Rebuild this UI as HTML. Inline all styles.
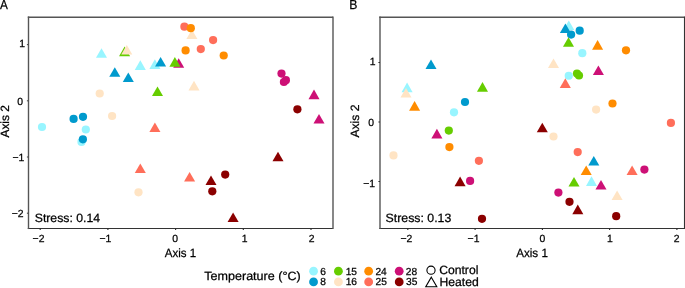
<!DOCTYPE html>
<html><head><meta charset="utf-8"><title>NMDS plots</title><style>
html,body{margin:0;padding:0;background:#fff;}
body{width:685px;height:288px;overflow:hidden;}
.wrap{will-change:transform;width:685px;height:288px;}
svg{display:block;font-family:"Liberation Sans",sans-serif;text-rendering:geometricPrecision;}
</style></head><body><div class="wrap">
<svg width="685" height="288" viewBox="0 0 685 288">
<rect width="685" height="288" fill="#fff"/>
<polygon points="101.50,48.22 107.02,57.79 95.98,57.79" fill="#98F5FF"/>
<polygon points="124.60,46.62 130.12,56.19 119.08,56.19" fill="#66CD00"/>
<polygon points="126.80,45.02 132.32,54.59 121.28,54.59" fill="#FFE4C4"/>
<polygon points="140.30,60.32 145.82,69.89 134.78,69.89" fill="#98F5FF"/>
<polygon points="154.90,59.32 160.42,68.89 149.38,68.89" fill="#98F5FF"/>
<polygon points="160.60,57.02 166.12,66.59 155.08,66.59" fill="#009ACD"/>
<polygon points="178.70,58.22 184.22,67.79 173.18,67.79" fill="#CD1076"/>
<polygon points="174.90,57.12 180.42,66.69 169.38,66.69" fill="#66CD00"/>
<polygon points="114.80,67.22 120.32,76.79 109.28,76.79" fill="#009ACD"/>
<polygon points="128.30,72.42 133.82,81.99 122.78,81.99" fill="#009ACD"/>
<circle cx="184.40" cy="26.70" r="4.10" fill="#FF6E5A"/>
<polygon points="191.90,29.42 197.42,38.99 186.38,38.99" fill="#FFE4C4"/>
<circle cx="190.80" cy="28.20" r="4.10" fill="#FF8C00"/>
<circle cx="213.10" cy="40.10" r="4.10" fill="#FF6E5A"/>
<circle cx="185.60" cy="50.40" r="4.10" fill="#FF8C00"/>
<circle cx="200.80" cy="49.10" r="4.10" fill="#FF6E5A"/>
<circle cx="223.70" cy="55.50" r="4.10" fill="#FF8C00"/>
<circle cx="281.50" cy="73.60" r="4.10" fill="#CD1076"/>
<circle cx="283.90" cy="82.00" r="4.10" fill="#CD1076"/>
<circle cx="285.90" cy="80.20" r="4.10" fill="#CD1076"/>
<polygon points="314.00,89.62 319.52,99.19 308.48,99.19" fill="#CD1076"/>
<circle cx="297.40" cy="109.30" r="4.10" fill="#8B0000"/>
<polygon points="319.00,114.02 324.52,123.59 313.48,123.59" fill="#CD1076"/>
<polygon points="194.00,80.82 199.52,90.39 188.48,90.39" fill="#FFE4C4"/>
<polygon points="157.50,86.42 163.02,95.99 151.98,95.99" fill="#66CD00"/>
<circle cx="99.70" cy="93.50" r="4.10" fill="#FFE4C4"/>
<circle cx="112.10" cy="116.00" r="4.10" fill="#FFE4C4"/>
<circle cx="73.60" cy="118.90" r="4.10" fill="#009ACD"/>
<circle cx="83.00" cy="116.80" r="4.10" fill="#009ACD"/>
<circle cx="42.00" cy="127.00" r="4.10" fill="#98F5FF"/>
<circle cx="85.80" cy="129.50" r="4.10" fill="#98F5FF"/>
<circle cx="81.50" cy="141.90" r="4.10" fill="#98F5FF"/>
<circle cx="82.90" cy="139.30" r="4.10" fill="#009ACD"/>
<polygon points="154.90,122.52 160.42,132.09 149.38,132.09" fill="#FF6E5A"/>
<polygon points="140.30,163.52 145.82,173.09 134.78,173.09" fill="#FF6E5A"/>
<polygon points="189.60,172.02 195.12,181.59 184.08,181.59" fill="#FF6E5A"/>
<circle cx="138.50" cy="192.30" r="4.10" fill="#FFE4C4"/>
<circle cx="225.20" cy="174.60" r="4.10" fill="#8B0000"/>
<polygon points="211.00,175.42 216.52,184.99 205.48,184.99" fill="#8B0000"/>
<circle cx="212.30" cy="191.30" r="4.10" fill="#8B0000"/>
<polygon points="233.10,212.52 238.62,222.09 227.58,222.09" fill="#8B0000"/>
<polygon points="278.00,151.72 283.52,161.29 272.48,161.29" fill="#8B0000"/>
<polygon points="407.10,82.62 412.62,92.19 401.58,92.19" fill="#98F5FF"/>
<polygon points="406.00,87.92 411.52,97.49 400.48,97.49" fill="#FFE4C4"/>
<polygon points="414.60,101.12 420.12,110.69 409.08,110.69" fill="#FF8C00"/>
<polygon points="431.00,59.52 436.52,69.09 425.48,69.09" fill="#009ACD"/>
<circle cx="465.00" cy="102.00" r="4.10" fill="#009ACD"/>
<circle cx="454.00" cy="112.30" r="4.10" fill="#98F5FF"/>
<polygon points="482.50,82.12 488.02,91.69 476.98,91.69" fill="#66CD00"/>
<polygon points="553.50,58.42 559.02,67.99 547.98,67.99" fill="#FFE4C4"/>
<polygon points="568.80,20.42 574.32,29.99 563.28,29.99" fill="#98F5FF"/>
<polygon points="565.40,23.42 570.92,32.99 559.88,32.99" fill="#009ACD"/>
<circle cx="571.10" cy="34.60" r="4.10" fill="#009ACD"/>
<circle cx="579.70" cy="30.70" r="4.10" fill="#009ACD"/>
<polygon points="568.50,37.22 574.02,46.79 562.98,46.79" fill="#66CD00"/>
<polygon points="597.60,40.12 603.12,49.69 592.08,49.69" fill="#FF8C00"/>
<circle cx="626.00" cy="50.30" r="4.10" fill="#FF8C00"/>
<circle cx="582.30" cy="53.20" r="4.10" fill="#98F5FF"/>
<circle cx="568.75" cy="75.75" r="4.10" fill="#98F5FF"/>
<circle cx="577.00" cy="73.60" r="4.10" fill="#66CD00"/>
<circle cx="579.00" cy="75.50" r="4.10" fill="#66CD00"/>
<polygon points="565.30,78.32 570.82,87.89 559.78,87.89" fill="#FF6E5A"/>
<polygon points="598.40,65.52 603.92,75.09 592.88,75.09" fill="#CD1076"/>
<circle cx="612.50" cy="103.50" r="4.10" fill="#FF8C00"/>
<circle cx="596.10" cy="109.60" r="4.10" fill="#FFE4C4"/>
<circle cx="670.90" cy="122.90" r="4.10" fill="#FF6E5A"/>
<polygon points="436.90,128.82 442.42,138.39 431.38,138.39" fill="#CD1076"/>
<circle cx="448.80" cy="130.60" r="4.10" fill="#66CD00"/>
<circle cx="449.40" cy="147.10" r="4.10" fill="#FF8C00"/>
<circle cx="393.50" cy="155.40" r="4.10" fill="#FFE4C4"/>
<polygon points="542.30,122.72 547.82,132.29 536.78,132.29" fill="#8B0000"/>
<circle cx="553.50" cy="136.50" r="4.10" fill="#FFE4C4"/>
<circle cx="478.90" cy="160.80" r="4.10" fill="#FF6E5A"/>
<polygon points="460.10,176.62 465.62,186.19 454.58,186.19" fill="#8B0000"/>
<circle cx="470.10" cy="180.90" r="4.10" fill="#CD1076"/>
<circle cx="482.00" cy="218.80" r="4.10" fill="#8B0000"/>
<circle cx="577.70" cy="152.10" r="4.10" fill="#FF6E5A"/>
<polygon points="593.80,156.02 599.32,165.59 588.28,165.59" fill="#009ACD"/>
<polygon points="586.20,165.42 591.72,174.99 580.68,174.99" fill="#FF8C00"/>
<polygon points="574.00,176.92 579.52,186.49 568.48,186.49" fill="#66CD00"/>
<polygon points="591.50,176.32 597.02,185.89 585.98,185.89" fill="#98F5FF"/>
<polygon points="601.00,180.02 606.52,189.59 595.48,189.59" fill="#CD1076"/>
<polygon points="632.10,165.42 637.62,174.99 626.58,174.99" fill="#FF6E5A"/>
<circle cx="644.40" cy="169.60" r="4.10" fill="#CD1076"/>
<polygon points="617.10,190.52 622.62,200.09 611.58,200.09" fill="#FFE4C4"/>
<circle cx="558.40" cy="192.60" r="4.10" fill="#CD1076"/>
<circle cx="569.50" cy="201.80" r="4.10" fill="#8B0000"/>
<polygon points="577.80,204.62 583.32,214.19 572.28,214.19" fill="#8B0000"/>
<circle cx="616.20" cy="216.20" r="4.10" fill="#8B0000"/>
<line x1="27.8" y1="17.2" x2="333.0" y2="17.2" stroke="#555555" stroke-width="1.4"/>
<line x1="27.8" y1="228.5" x2="333.0" y2="228.5" stroke="#333333" stroke-width="1.1"/>
<line x1="28.5" y1="16.5" x2="28.5" y2="229.05" stroke="#555555" stroke-width="1.4"/>
<line x1="333.0" y1="16.5" x2="333.0" y2="229.05" stroke="#555555" stroke-width="1.4"/>
<line x1="379.3" y1="17.2" x2="684.5" y2="17.2" stroke="#555555" stroke-width="1.4"/>
<line x1="379.3" y1="228.5" x2="684.5" y2="228.5" stroke="#333333" stroke-width="1.1"/>
<line x1="380.0" y1="16.5" x2="380.0" y2="229.05" stroke="#555555" stroke-width="1.4"/>
<line x1="684.5" y1="16.5" x2="684.5" y2="229.05" stroke="#333333" stroke-width="1.1"/>
<line x1="40.2" y1="228.5" x2="40.2" y2="229.95000000000002" stroke="#2a2a2a" stroke-width="1.1"/>
<line x1="107.9" y1="228.5" x2="107.9" y2="229.95000000000002" stroke="#2a2a2a" stroke-width="1.1"/>
<line x1="175.6" y1="228.5" x2="175.6" y2="229.95000000000002" stroke="#2a2a2a" stroke-width="1.1"/>
<line x1="243.3" y1="228.5" x2="243.3" y2="229.95000000000002" stroke="#2a2a2a" stroke-width="1.1"/>
<line x1="311.0" y1="228.5" x2="311.0" y2="229.95000000000002" stroke="#2a2a2a" stroke-width="1.1"/>
<line x1="407.8" y1="228.5" x2="407.8" y2="229.95000000000002" stroke="#2a2a2a" stroke-width="1.1"/>
<line x1="475.1" y1="228.5" x2="475.1" y2="229.95000000000002" stroke="#2a2a2a" stroke-width="1.1"/>
<line x1="542.4" y1="228.5" x2="542.4" y2="229.95000000000002" stroke="#2a2a2a" stroke-width="1.1"/>
<line x1="609.6" y1="228.5" x2="609.6" y2="229.95000000000002" stroke="#2a2a2a" stroke-width="1.1"/>
<line x1="676.9" y1="228.5" x2="676.9" y2="229.95000000000002" stroke="#2a2a2a" stroke-width="1.1"/>
<line x1="26.900000000000002" y1="44.6" x2="28.5" y2="44.6" stroke="#4a4a4a" stroke-width="1.1"/>
<line x1="26.900000000000002" y1="100.8" x2="28.5" y2="100.8" stroke="#4a4a4a" stroke-width="1.1"/>
<line x1="26.900000000000002" y1="157.0" x2="28.5" y2="157.0" stroke="#4a4a4a" stroke-width="1.1"/>
<line x1="26.900000000000002" y1="213.2" x2="28.5" y2="213.2" stroke="#4a4a4a" stroke-width="1.1"/>
<line x1="378.40000000000003" y1="62.5" x2="380.0" y2="62.5" stroke="#2a2a2a" stroke-width="1.1"/>
<line x1="378.40000000000003" y1="122.0" x2="380.0" y2="122.0" stroke="#2a2a2a" stroke-width="1.1"/>
<line x1="378.40000000000003" y1="181.5" x2="380.0" y2="181.5" stroke="#2a2a2a" stroke-width="1.1"/>
<g fill="#000000" stroke="#000000" stroke-width="0.25">
<text x="0.08" y="8.55" font-size="13" textLength="7.85" lengthAdjust="spacingAndGlyphs">A</text>
<text x="349.20" y="8.55" font-size="13" textLength="8.15" lengthAdjust="spacingAndGlyphs">B</text>
<text x="164.78" y="256.58" font-size="12" textLength="31.39" lengthAdjust="spacingAndGlyphs">Axis 1</text>
<text x="516.18" y="256.58" font-size="12" textLength="31.69" lengthAdjust="spacingAndGlyphs">Axis 1</text>
<text x="34.74" y="222.18" font-size="12" textLength="65.31" lengthAdjust="spacingAndGlyphs">Stress: 0.14</text>
<text x="385.59" y="222.38" font-size="12" textLength="65.75" lengthAdjust="spacingAndGlyphs">Stress: 0.13</text>
<text x="204.32" y="280.11" font-size="12" textLength="96.34" lengthAdjust="spacingAndGlyphs">Temperature (°C)</text>
<text x="439.18" y="273.68" font-size="12" textLength="39.23" lengthAdjust="spacingAndGlyphs">Control</text>
<text x="439.50" y="286.48" font-size="12" textLength="39.28" lengthAdjust="spacingAndGlyphs">Heated</text>
<text x="32.58" y="242.01" font-size="10.4">−2</text>
<text x="99.49" y="242.01" font-size="10.4">−1</text>
<text x="172.21" y="242.01" font-size="10.4">0</text>
<text x="241.69" y="242.01" font-size="10.4">1</text>
<text x="308.66" y="242.01" font-size="10.4">2</text>
<text x="400.48" y="242.01" font-size="10.4">−2</text>
<text x="467.62" y="242.01" font-size="10.4">−1</text>
<text x="539.41" y="242.01" font-size="10.4">0</text>
<text x="606.97" y="242.01" font-size="10.4">1</text>
<text x="673.81" y="242.01" font-size="10.4">2</text>
<text x="19.37" y="47.20" font-size="10.4">1</text>
<text x="17.31" y="105.00" font-size="10.4">0</text>
<text x="12.47" y="161.20" font-size="10.4">−1</text>
<text x="11.63" y="217.30" font-size="10.4">−2</text>
<text x="369.74" y="64.80" font-size="10.4">1</text>
<text x="368.21" y="125.90" font-size="10.4">0</text>
<text x="363.27" y="186.90" font-size="10.4">−1</text>
<text x="320.33" y="274.80" font-size="10.2">6</text>
<text x="320.36" y="285.00" font-size="10.2">8</text>
<text x="345.65" y="274.80" font-size="10.2">15</text>
<text x="345.66" y="285.00" font-size="10.2">16</text>
<text x="375.40" y="274.80" font-size="10.2">24</text>
<text x="375.56" y="285.00" font-size="10.2">25</text>
<text x="405.84" y="274.80" font-size="10.2">28</text>
<text x="406.00" y="285.00" font-size="10.2">35</text>
<text transform="translate(8.70,137.52) rotate(-90)" font-size="12" textLength="32.42" lengthAdjust="spacingAndGlyphs">Axis 2</text>
<text transform="translate(358.90,137.52) rotate(-90)" font-size="12" textLength="32.93" lengthAdjust="spacingAndGlyphs">Axis 2</text>
</g>
<circle cx="313.55" cy="271.20" r="4.40" fill="#98F5FF"/>
<circle cx="313.55" cy="281.90" r="4.40" fill="#009ACD"/>
<circle cx="338.40" cy="271.20" r="4.40" fill="#66CD00"/>
<circle cx="338.40" cy="281.90" r="4.40" fill="#FFE4C4"/>
<circle cx="368.65" cy="271.20" r="4.40" fill="#FF8C00"/>
<circle cx="368.65" cy="281.90" r="4.40" fill="#FF6E5A"/>
<circle cx="399.20" cy="271.20" r="4.40" fill="#CD1076"/>
<circle cx="399.20" cy="281.90" r="4.40" fill="#8B0000"/>
<circle cx="431.00" cy="270.20" r="4.10" fill="none" stroke="#000" stroke-width="1.1"/>
<polygon points="431.30,277.22 436.82,286.79 425.78,286.79" fill="none" stroke="#000" stroke-width="1.1"/>
</svg>
</div></body></html>
